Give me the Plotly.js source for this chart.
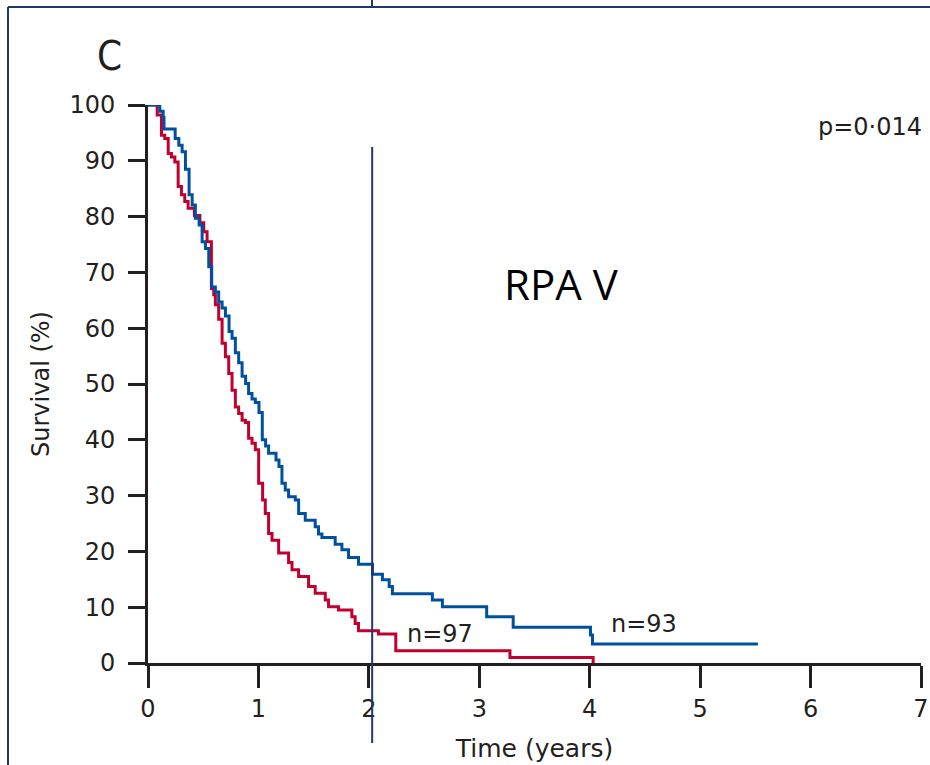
<!DOCTYPE html>
<html>
<head>
<meta charset="utf-8">
<script src="https://cdn.plot.ly/plotly-3.0.1.min.js"></script>
<style>
  html, body { margin: 0; padding: 0; background: #ffffff; }
  #chart { width: 930px; height: 765px; }
</style>
</head>
<body>
<div id="chart"></div>
<script>
// Kaplan-Meier survival, RPA class V: two treatment arms (step curves)
const blueTime = [0, 0.107, 0.137, 0.145, 0.246, 0.279, 0.309, 0.339, 0.372, 0.400, 0.429, 0.463, 0.490, 0.520, 0.550, 0.577, 0.610, 0.640, 0.671, 0.701, 0.734, 0.761, 0.791, 0.821, 0.852, 0.884, 0.911, 0.942, 0.972, 1.005, 1.035, 1.065, 1.092, 1.159, 1.186, 1.213, 1.243, 1.273, 1.334, 1.364, 1.424, 1.514, 1.544, 1.575, 1.695, 1.756, 1.816, 1.906, 2.033, 2.123, 2.184, 2.213, 2.575, 2.666, 3.067, 3.307, 4.007, 4.025, 5.523];
const blueSurv = [100, 98.9, 97.8, 95.7, 94.0, 92.8, 91.6, 88.5, 83.9, 82.1, 79.7, 78.5, 75.5, 74.3, 71.0, 67.4, 66.5, 64.7, 63.6, 62.2, 59.4, 58.2, 55.6, 53.8, 51.4, 50.1, 48.3, 47.3, 46.7, 44.9, 40.0, 38.9, 37.6, 36.4, 35.2, 32.2, 31.0, 29.8, 29.2, 26.8, 25.6, 24.4, 23.1, 22.5, 21.3, 20.3, 18.9, 17.7, 15.9, 14.9, 13.7, 12.4, 11.3, 10.1, 8.3, 6.4, 5.0, 3.4, 3.4];

const redTime = [0, 0.083, 0.122, 0.152, 0.183, 0.212, 0.243, 0.273, 0.303, 0.333, 0.363, 0.42, 0.47, 0.505, 0.535, 0.574, 0.595, 0.610, 0.640, 0.671, 0.701, 0.731, 0.761, 0.791, 0.821, 0.852, 0.882, 0.911, 0.942, 0.972, 1.002, 1.038, 1.062, 1.092, 1.123, 1.183, 1.273, 1.304, 1.364, 1.454, 1.514, 1.605, 1.635, 1.725, 1.846, 1.876, 1.906, 2.087, 2.244, 3.278, 4.031];
const redSurv = [100, 98.2, 94.6, 94.0, 91.3, 90.7, 89.8, 85.4, 83.9, 82.7, 81.5, 80.2, 78.9, 77.3, 75.5, 67.1, 66.0, 64.2, 61.6, 57.3, 54.9, 51.9, 48.9, 45.9, 44.7, 43.5, 43.1, 40.3, 39.4, 38.2, 32.2, 29.2, 26.8, 23.2, 22.0, 19.7, 18.0, 16.7, 15.5, 13.7, 12.5, 11.3, 10.1, 9.5, 8.3, 7.1, 5.8, 5.2, 2.2, 1.0, 0];

const xTicks = [0, 1, 2, 3, 4, 5, 6, 7];
const yTicks = [0, 10, 20, 30, 40, 50, 60, 70, 80, 90, 100];
const blueLabel = "n=93";
const redLabel = "n=97";
const pValueText = "p=0·014";
const groupTitle = "RPA V";
const panelLetter = "C";
const cutYear = 2.03;

const ink = "#231f20";
const navy = "#1f3a68";
const tickFont = { family: "DejaVu Sans, sans-serif", size: 24, color: ink };

// pixel -> paper helpers (plot area spans x 148..921, y 105..663)
const W = 930, H = 765, L = 148, R = 9, T = 105, B = 102;
const px = v => (v - L) / (W - L - R);
const py = v => (H - B - v) / (H - T - B);

const traces = [
  { x: redTime, y: redSurv, type: "scatter", mode: "lines",
    line: { shape: "hv", color: "#c0002f", width: 3 }, hoverinfo: "skip", showlegend: false },
  { x: blueTime, y: blueSurv, type: "scatter", mode: "lines",
    line: { shape: "hv", color: "#0050a0", width: 3 }, hoverinfo: "skip", showlegend: false }
];

const layout = {
  width: W, height: H, autosize: false,
  margin: { l: L, r: R, t: T, b: B, pad: 0 },
  paper_bgcolor: "#ffffff", plot_bgcolor: "#ffffff",
  showlegend: false,
  xaxis: {
    range: [0, 7], tickvals: xTicks, ticktext: xTicks.map(String),
    showgrid: false, zeroline: false, showline: true, linecolor: ink, linewidth: 3,
    ticks: "outside", ticklen: 22, tickwidth: 3, tickcolor: ink,
    tickfont: tickFont, ticklabelstandoff: 0,
    title: { text: "Time (years)", font: { family: "DejaVu Sans, sans-serif", size: 25, color: ink }, standoff: 18 }
  },
  yaxis: {
    range: [0, 100], tickvals: yTicks, ticktext: yTicks.map(String),
    showgrid: false, zeroline: false, showline: true, linecolor: ink, linewidth: 3,
    ticks: "outside", ticklen: 17, tickwidth: 3, tickcolor: ink,
    tickfont: tickFont, ticklabelstandoff: 8,
    title: { text: "Survival (%)", font: { family: "DejaVu Sans, sans-serif", size: 24, color: ink }, standoff: 13 }
  },
  shapes: [
    // frame of the figure panel
    { type: "line", xref: "paper", yref: "paper", x0: px(8), x1: px(930), y0: py(7), y1: py(7), line: { color: navy, width: 2 } },
    { type: "line", xref: "paper", yref: "paper", x0: px(8), x1: px(8), y0: py(7), y1: py(765), line: { color: navy, width: 2 } },
    { type: "line", xref: "paper", yref: "paper", x0: px(372), x1: px(372), y0: py(0), y1: py(7), line: { color: navy, width: 2 } },
    // two-year marker
    { type: "line", xref: "x", yref: "paper", x0: cutYear, x1: cutYear, y0: py(147), y1: py(743), line: { color: navy, width: 2 } }
  ],
  annotations: [
    { text: panelLetter, xref: "paper", yref: "paper", x: px(109), y: py(56), xanchor: "center", yanchor: "middle",
      showarrow: false, font: { family: "DejaVu Sans Condensed, DejaVu Sans, sans-serif", size: 40, color: ink } },
    { text: groupTitle, xref: "paper", yref: "paper", x: px(561), y: py(283), xanchor: "center", yanchor: "middle",
      showarrow: false, font: { family: "Open Sans, sans-serif", size: 42, color: "#000000" } },
    { text: pValueText, xref: "paper", yref: "paper", x: px(870), y: py(127), xanchor: "center", yanchor: "middle",
      showarrow: false, font: { family: "DejaVu Sans, sans-serif", size: 24, color: ink } },
    { text: redLabel, xref: "paper", yref: "paper", x: px(440), y: py(634), xanchor: "center", yanchor: "middle",
      showarrow: false, font: { family: "DejaVu Sans, sans-serif", size: 24, color: ink } },
    { text: blueLabel, xref: "paper", yref: "paper", x: px(644), y: py(624), xanchor: "center", yanchor: "middle",
      showarrow: false, font: { family: "DejaVu Sans, sans-serif", size: 24, color: ink } }
  ]
};

Plotly.newPlot("chart", traces, layout, { staticPlot: true, displayModeBar: false });
</script>
</body>
</html>
